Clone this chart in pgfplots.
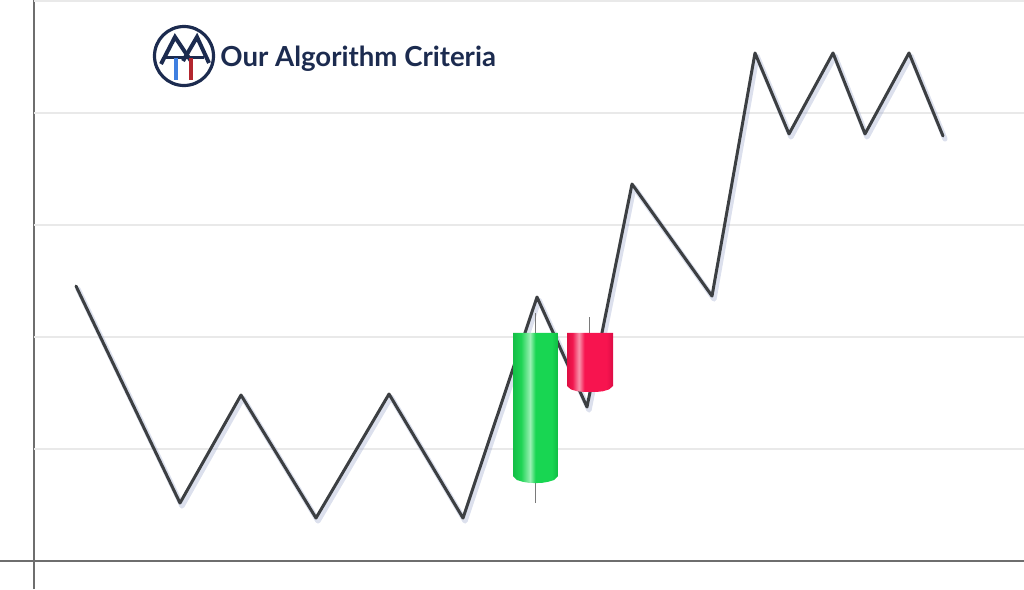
\documentclass[border=0pt]{standalone}
\usepackage{fontspec}
\setmainfont{Lato}
\usepackage{pgfplots}
\pgfplotsset{compat=1.18}

\definecolor{navy}{HTML}{1C2B4F}
\definecolor{linegray}{HTML}{3C3F42}
\definecolor{gridgray}{HTML}{E9E9E9}
\definecolor{axisgray}{HTML}{6E6E6E}
\definecolor{wickgray}{HTML}{7A7A7A}
\definecolor{shadowblue}{HTML}{9AA6CC}
\definecolor{logoblue}{HTML}{3F7FE0}
\definecolor{logored}{HTML}{B3262E}
% candle colours
\definecolor{gA}{HTML}{14BE46}
\definecolor{gB}{HTML}{1FD455}
\definecolor{gC}{HTML}{9AF0B4}
\definecolor{gD}{HTML}{18D652}
\definecolor{gE}{HTML}{10BC44}
\definecolor{rA}{HTML}{DE0E42}
\definecolor{rB}{HTML}{F2174F}
\definecolor{rC}{HTML}{F894AC}
\definecolor{rD}{HTML}{F7144F}
\definecolor{rE}{HTML}{DC0C45}

% body of a candle: light stripe left of centre
\pgfdeclarehorizontalshading{greencyl}{100bp}{color(0bp)=(gA); color(25bp)=(gA);
  color(34bp)=(gB); color(44bp)=(gC); color(50bp)=(gD); color(68bp)=(gD);
  color(75bp)=(gE); color(100bp)=(gE)}
\pgfdeclarehorizontalshading{redcyl}{100bp}{color(0bp)=(rA); color(25bp)=(rA);
  color(31bp)=(rB); color(38bp)=(rC); color(44bp)=(rD); color(68bp)=(rD);
  color(75bp)=(rE); color(100bp)=(rE)}

\begin{document}
\begin{tikzpicture}
\begin{axis}[
    x=0.5bp, y=56bp,
    xmin=-34, xmax=990,
    ymin=-0.25, ymax=5.009,
    axis lines=middle,
    axis line style={-, draw=axisgray, line width=0.7bp},
    xtick=\empty, ytick=\empty,
]
    % grid
    \pgfplotsinvokeforeach{1,...,5}{
        \draw[gridgray, line width=0.6bp] (axis cs:0,#1) -- (axis cs:990,#1);
    }

    % price path
    \addplot[linegray, mark=none, line width=1.5bp, line join=round, line cap=round,
        preaction={draw=shadowblue, opacity=0.35, line width=2.6bp,
                   transform canvas={xshift=1bp, yshift=-1.5bp}}] coordinates {
        (42,2.455) (146,0.518) (207,1.482) (282,0.384) (355,1.491)
        (429,0.384) (503,2.357) (553,1.375) (598,3.366) (678,2.366)
        (721,4.536) (755,3.813) (799,4.536) (831,3.813) (875,4.536) (909,3.795)
    };

    % wicks
    \addplot[wickgray, mark=none, line width=0.5bp] coordinates {(501,0.518) (501,2.214)};
    \addplot[wickgray, mark=none, line width=0.5bp] coordinates {(555,2.030) (555,2.179)};

    % green candle body
    \addplot[draw=none, mark=none, shading=greencyl] coordinates {
        (479,2.036) (524,2.036) (524,0.759) (520,0.723) (514,0.707)
        (508,0.698) (501.5,0.696) (495,0.698) (489,0.707) (483,0.723) (479,0.759)
    } -- cycle;

    % red candle body
    \addplot[draw=none, mark=none, shading=redcyl] coordinates {
        (533,2.036) (579,2.036) (579,1.5625) (575,1.532) (569,1.516)
        (563,1.510) (556,1.509) (549,1.510) (543,1.516) (537,1.532) (533,1.5625)
    } -- cycle;
\end{axis}

% logo and title, in pixel units from the top left corner
\begin{scope}[shift={(current axis.north west)}, x=0.5bp, y=-0.5bp]
    \draw[navy, line width=1.6bp] (184,56) circle [radius=29.5];
    \draw[navy, line width=2bp, line join=miter] (161,64) -- (175,37) -- (191,61);
    \draw[navy, line width=2bp, line join=miter] (183,61) -- (197,37) -- (209,63);
    \draw[navy, line width=1.5bp] (165,57.5) -- (204,57.5);
    \draw[logoblue, line width=2bp] (176,58) -- (176,80);
    \draw[logored, line width=2bp] (191,58) -- (191,80);
    \node[anchor=base west, inner sep=0, text=navy,
          font=\bfseries\fontsize{13.8bp}{17bp}\selectfont] at (220,66) {Our Algorithm Criteria};
\end{scope}

\pgfresetboundingbox
\path (current axis.south west) rectangle (current axis.north east);
\end{tikzpicture}
\end{document}
